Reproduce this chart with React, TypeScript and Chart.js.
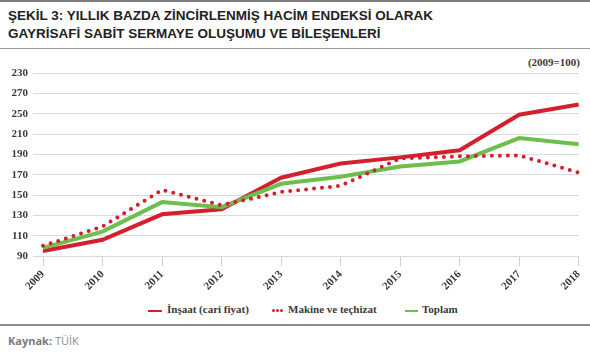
import React, { useEffect, useRef } from "react";
import { Chart, registerables } from "chart.js";

Chart.register(...registerables);

const years = ["2009", "2010", "2011", "2012", "2013", "2014", "2015", "2016", "2017", "2018"];
const insaat = [95, 106, 131, 136, 167, 181, 187, 194, 229, 239];
const makine = [100, 119, 155, 140, 153, 159, 186, 188, 189, 172];
const toplam = [98, 114, 143, 138, 161, 168, 178, 183, 206, 200];
// tick labels as printed in the source (bottom to top)
const yTickLabels = ["90", "110", "130", "150", "170", "190", "210", "250", "270", "230"];
const seriesNames = ["İnşaat (cari fiyat)", "Makine ve teçhizat", "Toplam"];

const RED = "#d3202f";
const GREEN = "#6cbf4c";

export default function App() {
  const ref = useRef<HTMLCanvasElement | null>(null);
  useEffect(() => {
    if (!ref.current) return;
    const chart = new Chart(ref.current, {
      type: "line",
      data: {
        labels: years,
        datasets: [
          {
            label: seriesNames[1],
            data: makine,
            borderColor: RED,
            borderWidth: 4,
            borderDash: [0, 8],
            borderCapStyle: "round",
            pointRadius: 0,
            tension: 0,
          },
          {
            label: seriesNames[2],
            data: toplam,
            borderColor: GREEN,
            borderWidth: 4,
            pointRadius: 0,
            tension: 0,
          },
          {
            label: seriesNames[0],
            data: insaat,
            borderColor: RED,
            borderWidth: 4,
            pointRadius: 0,
            tension: 0,
          },
        ],
      },
      options: {
        animation: false,
        responsive: false,
        maintainAspectRatio: false,
        layout: { padding: { top: 12, right: 10, left: 0, bottom: 0 } },
        plugins: { legend: { display: false }, tooltip: { enabled: false }, title: { display: false } },
        scales: {
          x: {
            offset: false,
            grid: { drawOnChartArea: false, drawTicks: true, tickLength: 10, color: "#d0d0d0" },
            border: { display: false },
            ticks: {
              minRotation: 45,
              maxRotation: 45,
              autoSkip: false,
              padding: 2,
              color: "#3a3a3a",
              font: { family: "'Liberation Serif', serif", size: 11, weight: "bold" },
            },
            afterFit: (s: any) => {
              s.height = 45;
            },
          },
          y: {
            min: 90,
            max: 270,
            grid: { color: "#dadada", drawTicks: true, tickLength: 10 },
            border: { display: false },
            ticks: {
              stepSize: 20,
              padding: 5,
              color: "#3a3a3a",
              font: { family: "'Liberation Serif', serif", size: 11, weight: "bold" },
              callback: (v: any) => {
                const i = Math.round((Number(v) - 90) / 20);
                return yTickLabels[i] ?? "";
              },
            },
            afterFit: (s: any) => {
              s.width = 43;
            },
          },
        },
      },
    });
    return () => chart.destroy();
  }, []);

  const serif = "'Liberation Serif', serif";
  return (
    <div style={{ position: "absolute", left: 0, top: 0, width: 590, height: 353, background: "#fff", overflow: "hidden" }}>
      <div style={{ position: "absolute", left: 0, top: 0, width: 590, height: 2, background: "#7a7a7a" }} />
      <div
        style={{
          position: "absolute",
          left: 8,
          top: 7,
          fontFamily: "'Liberation Sans Narrow', 'Liberation Sans', sans-serif",
          fontWeight: "bold",
          fontSize: 13.5,
          lineHeight: "18px",
          color: "#222",
          whiteSpace: "nowrap",
        }}
      >
        <div>ŞEKİL 3: YILLIK BAZDA ZİNCİRLENMİŞ HACİM ENDEKSİ OLARAK</div>
        <div>GAYRİSAFİ SABİT SERMAYE OLUŞUMU VE BİLEŞENLERİ</div>
      </div>
      <div style={{ position: "absolute", left: 0, top: 48, width: 590, height: 1, background: "#9a9a9a" }} />
      <div
        style={{
          position: "absolute",
          right: 10,
          top: 56,
          fontFamily: serif,
          fontWeight: "bold",
          fontSize: 11,
          color: "#3a3a3a",
        }}
      >
        (2009=100)
      </div>
      <canvas ref={ref} width={590} height={240} style={{ position: "absolute", left: 0, top: 61, width: 590, height: 240 }} />
      <div
        style={{
          position: "absolute",
          left: 0,
          top: 303,
          width: 590,
          fontFamily: serif,
          fontWeight: "bold",
          fontSize: 11,
          color: "#3a3a3a",
          whiteSpace: "nowrap",
        }}
      >
        <span style={{ position: "absolute", left: 148, top: 7, width: 14, height: 2, background: RED }} />
        <span style={{ position: "absolute", left: 167, top: 0 }}>{seriesNames[0]}</span>
        <span style={{ position: "absolute", left: 272, top: 6, width: 3, height: 3, borderRadius: 2, background: RED }} />
        <span style={{ position: "absolute", left: 276, top: 6, width: 3, height: 3, borderRadius: 2, background: RED }} />
        <span style={{ position: "absolute", left: 280, top: 6, width: 3, height: 3, borderRadius: 2, background: RED }} />
        <span style={{ position: "absolute", left: 288, top: 0 }}>{seriesNames[1]}</span>
        <span style={{ position: "absolute", left: 405, top: 7, width: 13, height: 2, background: GREEN }} />
        <span style={{ position: "absolute", left: 422, top: 0 }}>{seriesNames[2]}</span>
      </div>
      <div style={{ position: "absolute", left: 0, top: 324, width: 590, height: 2, background: "#8a8a8a" }} />
      <div
        style={{
          position: "absolute",
          left: 8,
          top: 333,
          fontFamily: "'Open Sans', sans-serif",
          fontSize: 11,
          color: "#8a8a8a",
          whiteSpace: "nowrap",
        }}
      >
        <span style={{ fontWeight: "bold", color: "#7a7a7a" }}>Kaynak:</span> TÜİK
      </div>
    </div>
  );
}
